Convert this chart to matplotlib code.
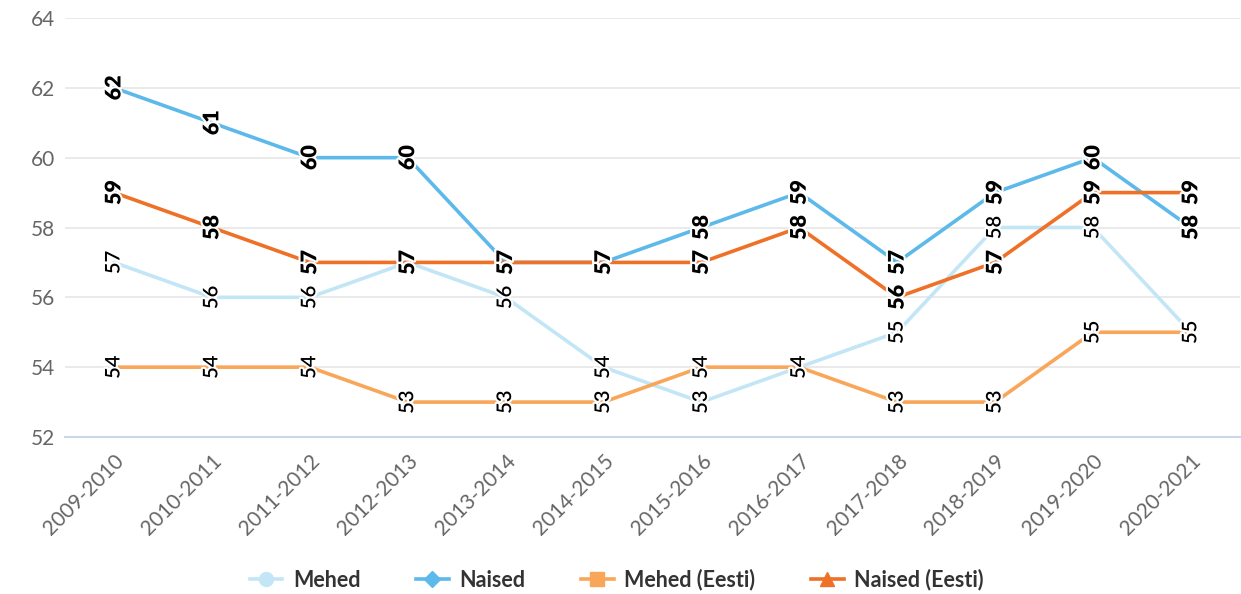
import matplotlib
matplotlib.use('Agg')
import matplotlib.pyplot as plt
import matplotlib.patheffects as pe
from matplotlib.lines import Line2D

plt.rcParams['font.family'] = ['Lato', 'DejaVu Sans']

# ── Data ──────────────────────────────────────────────────────────────────────
years = ['2009-2010', '2010-2011', '2011-2012', '2012-2013', '2013-2014', '2014-2015',
         '2015-2016', '2016-2017', '2017-2018', '2018-2019', '2019-2020', '2020-2021']
mehed        = [57, 56, 56, 57, 56, 54, 53, 54, 55, 58, 58, 55]
naised       = [62, 61, 60, 60, 57, 57, 58, 59, 57, 59, 60, 58]
mehed_eesti  = [54, 54, 54, 53, 53, 53, 54, 54, 53, 53, 55, 55]
naised_eesti = [59, 58, 57, 57, 57, 57, 57, 58, 56, 57, 59, 59]

series = [
    ('Mehed',          mehed,        '#c3e6f6', 'o', 'normal'),
    ('Naised',         naised,       '#5cb9e9', 'D', 'bold'),
    ('Mehed (Eesti)',  mehed_eesti,  '#f9a65a', 's', 'normal'),
    ('Naised (Eesti)', naised_eesti, '#ee7127', '^', 'bold'),
]

# ── Figure ────────────────────────────────────────────────────────────────────
fig = plt.figure(figsize=(12.41, 5.94), dpi=100)
ax = fig.add_axes([0.0524, 0.2643, 0.9466, 0.7054])

x = range(len(years))
for name, vals, col, mk, fw in series:
    ax.plot(x, vals, color=col, lw=2.6, solid_capstyle='round', zorder=3)

# data labels on top of all lines
for name, vals, col, mk, fw in series:
    for xi, v in zip(x, vals):
        ax.text(xi, v, f'{v}', rotation=90, ha='center', va='center',
                fontsize=15.5 if fw == 'bold' else 14.5,
                fontweight='heavy' if fw == 'bold' else 'semibold',
                color='black', zorder=5,
                path_effects=[pe.withStroke(linewidth=3, foreground='white')])

ax.set_xlim(-0.5, len(years) - 0.5)
ax.set_ylim(52, 64)
ax.set_yticks(range(52, 65, 2))
ax.set_xticks(list(x))
ax.set_xticklabels(years, rotation=45, ha='right', rotation_mode='anchor')
ax.tick_params(axis='both', length=0, labelsize=15, colors='#666666')
ax.tick_params(axis='y', pad=7)
ax.tick_params(axis='x', pad=10)

ax.grid(axis='y', color='#e6e6e6', lw=1.2, zorder=0)
ax.set_axisbelow(True)
for s in ['top', 'right', 'left']:
    ax.spines[s].set_visible(False)
ax.spines['bottom'].set_color('#ccd6eb')
ax.spines['bottom'].set_linewidth(1.5)

handles = [Line2D([0], [0], color=col, lw=2.6, marker=mk, markersize=10 if mk != 'D' else 8)
           for name, vals, col, mk, fw in series]
fig.legend(handles, [s[0] for s in series], loc='center', bbox_to_anchor=(0.497, 0.024),
           ncol=4, frameon=False, handlelength=1.5, handletextpad=0.5, columnspacing=2.6,
           prop={'size': 15.5, 'weight': 'bold'}, labelcolor='#333333')

fig.savefig('out.png', dpi=100)
